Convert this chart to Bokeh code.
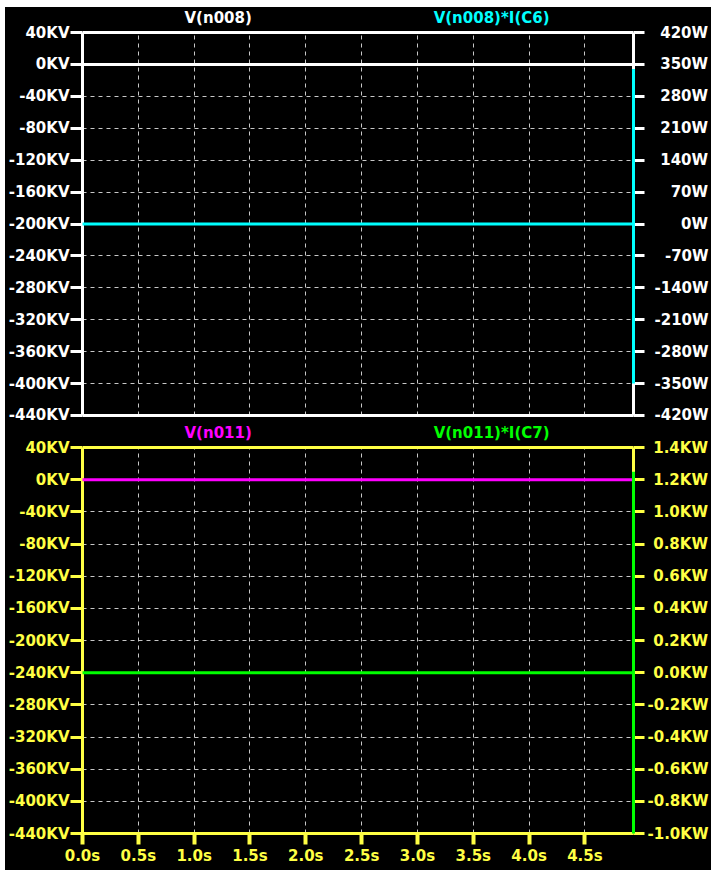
from bokeh.plotting import figure
from bokeh.models import Range1d, LinearAxis, FixedTicker, Span
from bokeh.core.properties import value
from bokeh.layouts import column
from bokeh.embed import file_html
from bokeh.resources import INLINE

# ---------------- data ----------------
time_s = [0.0, 4.935]
v_n008_kv = [0.0, 0.0]
v_n011_kv = [0.0, 0.0]

p_time_s = [0.0, 4.935, 4.935, 4.935]
p_c6_w = [0.0, 0.0, 340.0, -350.0]
p_c7_kw = [0.0, 0.0, 1.25, -1.0]

x_ticks = [0.0, 0.5, 1.0, 1.5, 2.0, 2.5, 3.0, 3.5, 4.0, 4.5]
x_tick_labels = ["0.0s", "0.5s", "1.0s", "1.5s", "2.0s", "2.5s", "3.0s",
                 "3.5s", "4.0s", "4.5s"]

kv_ticks = [40, 0, -40, -80, -120, -160, -200, -240, -280, -320, -360, -400, -440]
kv_tick_labels = ["40KV", "0KV", "-40KV", "-80KV", "-120KV", "-160KV", "-200KV",
                  "-240KV", "-280KV", "-320KV", "-360KV", "-400KV", "-440KV"]

w_ticks = [420, 350, 280, 210, 140, 70, 0, -70, -140, -210, -280, -350, -420]
w_tick_labels = ["420W", "350W", "280W", "210W", "140W", "70W", "0W", "-70W",
                 "-140W", "-210W", "-280W", "-350W", "-420W"]

kw_ticks = [1.4, 1.2, 1.0, 0.8, 0.6, 0.4, 0.2, 0.0, -0.2, -0.4, -0.6, -0.8, -1.0]
kw_tick_labels = ["1.4KW", "1.2KW", "1.0KW", "0.8KW", "0.6KW", "0.4KW", "0.2KW",
                  "0.0KW", "-0.2KW", "-0.4KW", "-0.6KW", "-0.8KW", "-1.0KW"]

top_titles = ["V(n008)", "V(n008)*I(C6)"]
bottom_titles = ["V(n011)", "V(n011)*I(C7)"]
title_x_s = [1.215, 3.664]          # horizontal centre of each trace name

# ---------------- style ----------------
FONT = "DejaVu Sans"
FSIZE = "15px"
WHITE = "#ffffff"
YELLOW = "#ffff44"
CYAN = "#00ffff"
MAGENTA = "#ff00ff"
GREEN = "#00ff00"
GRID = "#c8c8c8"
X_END = 4.935
W = 706
KV_LO, KV_HI = -440, 40


def pad_right(labels):
    """Right-align labels by left-padding with figure / punctuation spaces."""
    nd = [sum(c.isdigit() for c in s) for s in labels]
    nh = [s.count("-") for s in labels]
    md, mh = max(nd), max(nh)
    return ["\u2008" * (mh - h) + "\u2007" * (md - d) + s
            for s, d, h in zip(labels, nd, nh)]


def style_axis(ax, color, tick_out=12):
    ax.axis_line_color = color
    ax.axis_line_width = 3
    ax.major_tick_line_color = color
    ax.major_tick_line_width = 3
    ax.major_tick_out = tick_out
    ax.major_tick_in = 0
    ax.minor_tick_line_color = None
    ax.major_label_text_color = color
    ax.major_label_text_font = FONT
    ax.major_label_text_font_style = "bold"
    ax.major_label_text_font_size = FSIZE
    ax.major_label_standoff = 1


def make_pane(height, strip_px, frame_px, border_bottom, color, right_name,
              right_lo, right_hi, right_ticks, right_labels, show_x, r_standoff):
    kv_span = KV_HI - KV_LO
    y_top = KV_HI + kv_span * strip_px / frame_px
    r_top = right_hi + (right_hi - right_lo) * strip_px / frame_px
    p = figure(width=W, height=height, output_backend="svg",
               toolbar_location=None, tools="",
               x_range=Range1d(0, X_END), y_range=Range1d(KV_LO, y_top),
               min_border_left=77, min_border_right=77,
               min_border_top=0, min_border_bottom=border_bottom,
               background_fill_color="black", border_fill_color="black",
               outline_line_color=None)
    p.title.visible = False
    p.extra_y_ranges = {right_name: Range1d(right_lo, r_top)}

    # left axis
    yl = p.yaxis[0]
    yl.ticker = FixedTicker(ticks=kv_ticks)
    yl.major_label_overrides = {t: s for t, s in zip(kv_ticks, kv_tick_labels)}
    yl.bounds = (KV_LO, KV_HI)
    style_axis(yl, color)

    # bottom axis
    xa = p.xaxis[0]
    style_axis(xa, color, tick_out=11)
    if show_x:
        xa.ticker = FixedTicker(ticks=x_ticks)
        xa.major_label_overrides = {t: s for t, s in zip(x_ticks, x_tick_labels)}
        xa.major_tick_line_width = 4
        xa.major_label_standoff = 2
    else:
        xa.ticker = FixedTicker(ticks=[])

    # right axis
    yr = LinearAxis(y_range_name=right_name, ticker=FixedTicker(ticks=right_ticks))
    style_axis(yr, color, tick_out=11)
    yr.bounds = (right_lo, right_hi)
    yr.major_label_overrides = {t: s for t, s in
                                zip(right_ticks, pad_right(right_labels))}
    yr.major_label_standoff = r_standoff
    p.add_layout(yr, "right")

    # top frame line
    p.add_layout(Span(location=KV_HI, dimension="width", line_color=color,
                      line_width=3))

    # grids
    p.xgrid.ticker = FixedTicker(ticks=x_ticks)
    p.ygrid.ticker = FixedTicker(ticks=kv_ticks)
    p.xgrid.cross_bounds = (KV_LO, KV_HI)
    for g in (p.xgrid[0], p.ygrid[0]):
        g.grid_line_color = GRID
        g.grid_line_dash = "4 4"
        g.grid_line_width = 1

    title_y = KV_HI + kv_span * 15 / frame_px
    return p, title_y


def titles(p, y, texts, colors):
    for t, xs, c in zip(texts, title_x_s, colors):
        p.text(x=[xs], y=[y], text=[t], text_color=c, text_font=value(FONT),
               text_font_style="bold", text_font_size=FSIZE,
               text_align="center", text_baseline="middle")


# ---------------- top pane ----------------
p1, ty1 = make_pane(416, 25, 383, 8, WHITE, "w", -420, 420, w_ticks,
                    w_tick_labels, False, 10)
p1.line(time_s, v_n008_kv, line_color=WHITE, line_width=3, level="overlay")
p1.line(p_time_s, p_c6_w, y_range_name="w", line_color=CYAN, line_width=3,
        level="overlay")
titles(p1, ty1, top_titles, [WHITE, CYAN])

# ---------------- bottom pane ----------------
p2, ty2 = make_pane(447, 24, 386, 37, YELLOW, "kw", -1.0, 1.4, kw_ticks,
                    kw_tick_labels, True, 3)
p2.line(time_s, v_n011_kv, line_color=MAGENTA, line_width=3, level="overlay")
p2.line(p_time_s, p_c7_kw, y_range_name="kw", line_color=GREEN, line_width=3,
        level="overlay")
titles(p2, ty2, bottom_titles, [MAGENTA, GREEN])

layout = column(p1, p2, spacing=0, margin=(7, 0, 0, 5),
                styles={"background-color": "black"})
open("out.html", "w").write(file_html(layout, INLINE))
